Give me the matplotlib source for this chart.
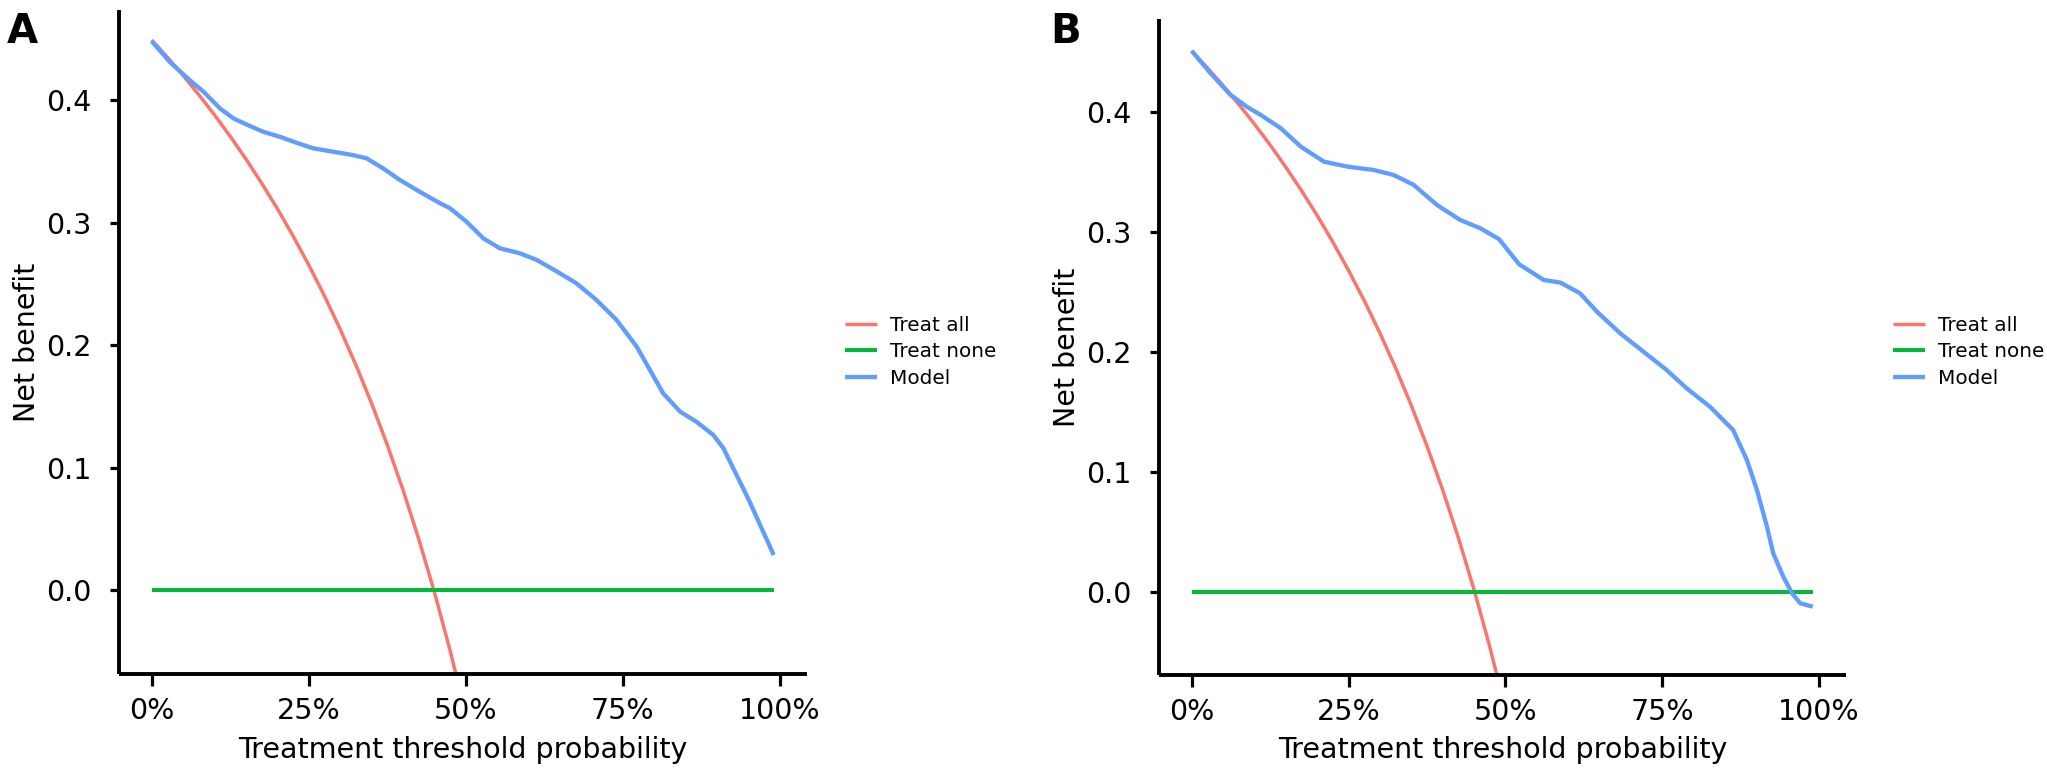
import matplotlib
matplotlib.use("Agg")
import matplotlib.pyplot as plt

treat_all_x = [0.0, 0.025, 0.05, 0.075, 0.10, 0.125, 0.15, 0.175, 0.20, 0.225,
               0.25, 0.275, 0.30, 0.325, 0.35, 0.375, 0.40, 0.425, 0.45, 0.475, 0.50]
treat_all_a = [0.449, 0.4349, 0.420, 0.4043, 0.3878, 0.3703, 0.3518, 0.3321, 0.3113, 0.2890,
               0.2653, 0.2400, 0.2129, 0.1837, 0.1523, 0.1184, 0.0817, 0.0417, -0.0018, -0.0495, -0.102]
treat_all_b = [0.451, 0.4369, 0.4221, 0.4065, 0.3900, 0.3726, 0.3541, 0.3345, 0.3138, 0.2916,
               0.2680, 0.2428, 0.2157, 0.1867, 0.1554, 0.1216, 0.0850, 0.0452, 0.0018, -0.0457, -0.098]

treat_none_x = [0.0, 0.99]
treat_none_y = [0.0, 0.0]

model_a_x = [0.0, 0.029, 0.061, 0.082, 0.109, 0.130, 0.151, 0.178, 0.204, 0.231, 0.257, 0.289,
             0.321, 0.342, 0.369, 0.395, 0.427, 0.459, 0.475, 0.501, 0.528, 0.554, 0.586, 0.613,
             0.645, 0.676, 0.708, 0.740, 0.772, 0.793, 0.814, 0.841, 0.867, 0.894, 0.910, 0.950, 0.990]
model_a_y = [0.448, 0.431, 0.416, 0.407, 0.393, 0.385, 0.380, 0.374, 0.370, 0.365, 0.3606, 0.3578,
             0.355, 0.3524, 0.344, 0.3347, 0.325, 0.3157, 0.3116, 0.3007, 0.287, 0.279, 0.2749, 0.2694,
             0.260, 0.2504, 0.2367, 0.2204, 0.1986, 0.1796, 0.1606, 0.1456, 0.1374, 0.1265, 0.1157, 0.074, 0.0286]

model_b_x = [0.0, 0.030, 0.062, 0.089, 0.110, 0.142, 0.174, 0.211, 0.248, 0.290, 0.322, 0.354,
             0.391, 0.428, 0.460, 0.490, 0.522, 0.561, 0.588, 0.619, 0.646, 0.683, 0.720, 0.757,
             0.789, 0.826, 0.863, 0.885, 0.901, 0.917, 0.927, 0.943, 0.957, 0.970, 0.990]
model_b_y = [0.451, 0.4324, 0.4143, 0.404, 0.3976, 0.3865, 0.3711, 0.3586, 0.3545, 0.3517, 0.3475, 0.3392,
             0.3225, 0.310, 0.3031, 0.294, 0.273, 0.260, 0.2577, 0.2489, 0.2335, 0.2155, 0.2002, 0.1849,
             0.1696, 0.1543, 0.1349, 0.1098, 0.0848, 0.0542, 0.032, 0.0125, -0.0013, -0.0097, -0.0125]

x_ticks = [0.0, 0.25, 0.50, 0.75, 1.0]
x_tick_labels = ["0%", "25%", "50%", "75%", "100%"]
y_ticks = [0.0, 0.1, 0.2, 0.3, 0.4]
y_tick_labels = ["0.0", "0.1", "0.2", "0.3", "0.4"]

RED, GREEN, BLUE = "#F8766D", "#00BA38", "#619CFF"

plt.rcParams["font.family"] = ["DejaVu Sans"]

fig = plt.figure(figsize=(20.47, 7.77), dpi=100)


def dca_panel(rect, letter, letter_x, all_y, model_x, model_y, ylim, legend_x):
    ax = fig.add_axes(rect)
    ax.plot(treat_all_x, all_y, color=RED, lw=2.5, label="Treat all", solid_capstyle="butt")
    ax.plot(treat_none_x, treat_none_y, color=GREEN, lw=2.9, label="Treat none", solid_capstyle="butt")
    ax.plot(model_x, model_y, color=BLUE, lw=3.1, label="Model",
            solid_joinstyle="round", solid_capstyle="butt")

    ax.set_xlim(-0.0516, 1.0425)
    ax.set_ylim(*ylim)
    ax.set_xticks(x_ticks, x_tick_labels)
    ax.set_yticks(y_ticks, y_tick_labels)

    for side in ("top", "right"):
        ax.spines[side].set_visible(False)
    for side in ("left", "bottom"):
        ax.spines[side].set_linewidth(2.8)
        ax.spines[side].set_capstyle("butt")
    ax.tick_params(axis="x", length=8.5, width=2.3, pad=8, labelsize=20.5)
    ax.tick_params(axis="y", length=6.3, width=2.3, pad=13.5, labelsize=20.5)

    ax.set_xlabel("Treatment threshold probability", fontsize=20.5)
    ax.set_ylabel("Net benefit", fontsize=20.5)
    ax.xaxis.set_label_coords(0.5, -0.093)
    ax.yaxis.set_label_coords(-0.114, 0.5)

    ax.legend(loc="center left", bbox_to_anchor=(legend_x, 0.5474), bbox_transform=fig.transFigure,
              frameon=False, fontsize=14.4, handlelength=1.6, handletextpad=0.65,
              labelspacing=0.38, borderpad=0, borderaxespad=0)
    fig.text(letter_x, (777 - 43) / 777, letter, fontsize=29, fontweight="bold",
             ha="left", va="baseline")
    return ax


dca_panel([119.3 / 2047, 102.7 / 777, 687.4 / 2047, 664.3 / 777], "A", 7 / 2047,
          treat_all_a, model_a_x, model_a_y, (-0.0688, 0.4735), 845 / 2047)
dca_panel([1159.3 / 2047, 102 / 777, 686.4 / 2047, 656 / 777], "B", 1050 / 2047,
          treat_all_b, model_b_x, model_b_y, (-0.0695, 0.4776), 1893 / 2047)

fig.savefig("out.png", dpi=100)
